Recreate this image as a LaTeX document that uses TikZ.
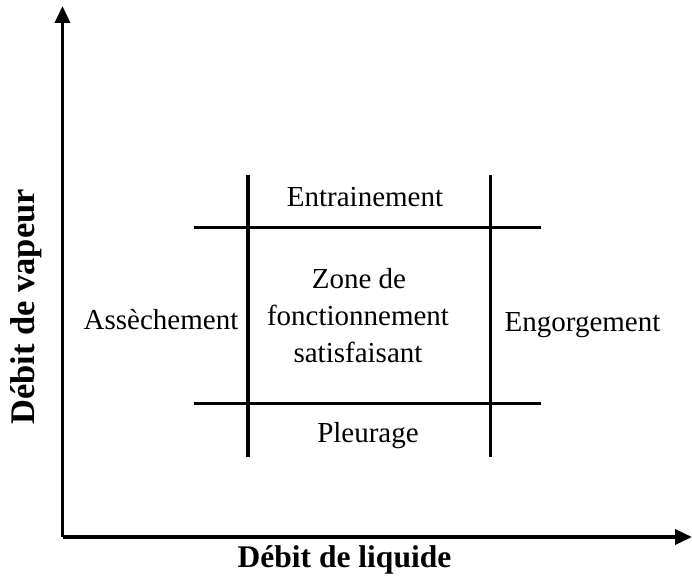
\documentclass[tikz,border=0pt]{standalone}
\usepackage{fontspec}
\setmainfont{Liberation Serif}
\usetikzlibrary{arrows.meta}
\begin{document}
\begin{tikzpicture}[x=1pt,y=-1pt,
  ax/.style={line width=3.5pt,-{Triangle[width=15pt,length=17pt]}},
  ln/.style={line width=3.5pt},
  lbl/.style={font=\fontsize{29}{37}\selectfont,inner sep=0pt,anchor=base},
  axl/.style={font=\fontsize{31.5}{38}\selectfont\bfseries,inner sep=0pt}]
\useasboundingbox (0,0) rectangle (692,577);
\coordinate (o) at (62.5,537);
\coordinate (ytip) at (62.5,6);
\coordinate (xtip) at (692,537);
\draw[ax] (o) -- (ytip);
\draw[ax] (o) -- (xtip);
\coordinate (v1t) at (248,175); \coordinate (v1b) at (248,457);
\coordinate (v2t) at (490.5,175); \coordinate (v2b) at (490.5,457);
\coordinate (h1l) at (194,227.5); \coordinate (h1r) at (540.5,227.5);
\coordinate (h2l) at (194,403.5); \coordinate (h2r) at (540.5,403.5);
\draw[ln] (v1t) -- (v1b);
\draw[ln] (v2t) -- (v2b);
\draw[ln] (h1l) -- (h1r);
\draw[ln] (h2l) -- (h2r);
\node[lbl] (ent) at (365,206.5) {Entrainement};
\node[lbl] (z1) at (359,288) {Zone de};
\node[lbl] (z2) at (358,325) {fonctionnement};
\node[lbl] (z3) at (358,362) {satisfaisant};
\node[lbl] (ass) at (161,329) {Assèchement};
\node[lbl] (eng) at (582.5,331) {Engorgement};
\node[lbl] (ple) at (368,442) {Pleurage};
\node[axl,anchor=base] (xl) at (344.5,567) {Débit de liquide};
\node[axl,rotate=90,font=\fontsize{34.5}{40}\selectfont\bfseries] (yl) at (26,307) {Débit de vapeur};
\end{tikzpicture}
\end{document}
